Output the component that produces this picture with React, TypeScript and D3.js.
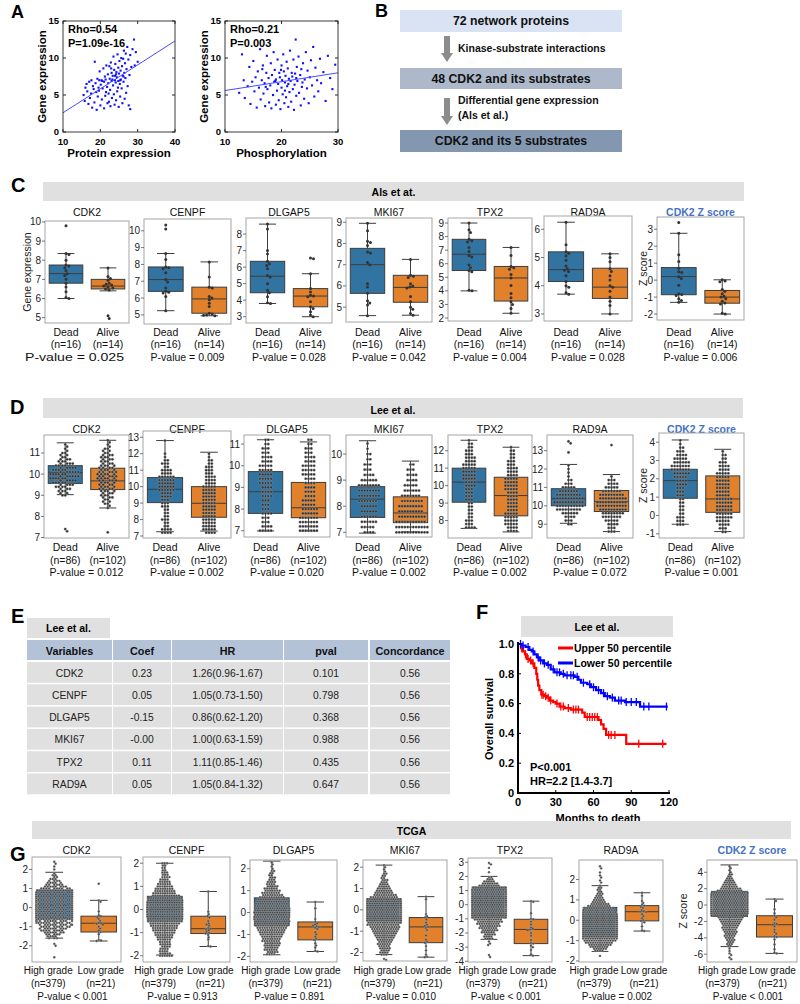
import React from 'react';
import * as d3 from 'd3';

const FONT = "'Liberation Sans', Arial, Helvetica, sans-serif";
const BOX_BLUE = '#3274a1';
const BOX_ORANGE = '#e1812c';
const EDGE = '#3d3d3d';
const BAR_GRAY = '#e0e0e0';
const Z_BLUE = '#4472c4';

// ================= Panel A data =================
const proteinScatter: [number, number][] = [
  [15.5,5.0],[15.8,4.2],[16.0,6.0],[16.3,6.5],[16.5,5.5],[16.8,3.8],[17.0,6.8],[17.2,4.6],[17.5,5.2],[17.6,7.0],
  [17.8,3.3],[18.0,6.2],[18.2,5.8],[18.4,4.0],[18.5,9.5],[18.7,6.6],[18.9,5.4],[19.0,3.0],[19.2,7.2],[19.3,4.8],
  [19.5,6.0],[19.6,5.6],[19.8,8.2],[20.0,3.6],[20.1,6.4],[20.3,7.0],[20.4,4.4],[20.6,5.9],[20.8,8.6],[21.0,3.2],
  [21.0,6.8],[21.2,7.5],[21.3,4.9],[21.5,5.4],[21.6,9.0],[21.8,6.1],[21.9,3.9],[22.0,7.8],[22.1,6.6],[22.3,4.1],
  [22.4,8.9],[22.5,7.2],[22.6,5.7],[22.7,3.5],[22.8,9.4],[23.0,6.9],[23.0,8.0],[23.1,4.6],[23.3,7.6],[23.4,6.3],
  [23.5,10.2],[23.6,5.1],[23.7,8.4],[23.8,3.7],[23.9,7.0],[24.0,9.2],[24.1,6.7],[24.2,4.3],[24.3,8.1],[24.4,7.4],
  [24.5,5.5],[24.6,10.5],[24.7,6.0],[24.8,8.7],[24.9,3.4],[25.0,7.9],[25.1,9.6],[25.2,6.5],[25.3,4.8],[25.4,8.3],
  [25.5,7.1],[25.6,10.0],[25.7,5.9],[25.8,8.9],[25.9,3.9],[26.0,7.6],[26.1,9.9],[26.2,6.8],[26.3,11.0],[26.4,8.0],
  [26.5,4.5],[26.6,9.3],[26.7,7.3],[26.8,10.6],[26.9,5.3],[27.0,8.5],[27.2,11.5],[27.3,6.2],[27.5,9.8],[27.6,3.6],
  [27.8,7.7],[28.0,10.4],[28.0,3.1],[28.3,8.8],[28.6,11.2],[29.0,12.5],[29.2,9.0],[29.5,10.8],[30.0,9.5],[24.2,7.8],
  [23.2,7.1],[22.2,5.2],[25.3,7.0],[26.2,7.5],[21.4,7.1],[20.5,6.9],[19.7,7.0],[24.8,6.9],[22.9,8.6],[23.9,7.6]
];
const phosphoScatter: [number, number][] = [
  [12.5,5.3],[13.0,10.5],[13.3,7.0],[13.5,4.6],[14.0,6.2],[14.3,8.8],[14.5,3.8],[14.8,6.8],[15.0,9.6],[15.2,5.5],
  [15.4,7.4],[15.6,3.3],[15.8,8.2],[16.0,6.0],[16.2,11.2],[16.3,4.4],[16.5,7.0],[16.7,9.0],[16.8,5.2],[17.0,6.6],
  [17.1,3.5],[17.3,8.0],[17.4,10.3],[17.5,5.8],[17.7,7.3],[17.8,4.0],[18.0,6.3],[18.1,9.3],[18.2,3.2],[18.3,7.7],
  [18.5,5.0],[18.6,10.8],[18.7,6.8],[18.8,8.4],[19.0,3.7],[19.0,7.1],[19.2,5.6],[19.3,9.8],[19.4,6.5],[19.5,4.3],
  [19.6,8.0],[19.7,7.4],[19.8,3.1],[20.0,6.0],[20.0,9.0],[20.1,7.0],[20.2,5.1],[20.3,10.5],[20.4,8.2],[20.5,3.9],
  [20.6,6.7],[20.7,7.6],[20.8,4.7],[20.9,9.5],[21.0,6.2],[21.1,8.6],[21.2,3.4],[21.3,7.2],[21.4,5.4],[21.5,11.0],
  [21.6,6.9],[21.7,4.1],[21.8,8.0],[21.9,7.5],[22.0,5.8],[22.1,9.8],[22.2,3.0],[22.3,6.4],[22.4,7.9],[22.5,12.5],
  [22.6,4.9],[22.7,8.8],[22.8,6.9],[23.0,10.2],[23.1,5.3],[23.3,7.7],[23.4,3.6],[23.5,8.5],[23.6,6.1],[23.8,9.3],
  [24.0,4.5],[24.1,7.1],[24.3,10.8],[24.5,5.9],[24.6,8.3],[24.8,3.9],[25.0,7.4],[25.2,9.7],[25.4,6.3],[25.6,11.5],
  [25.8,4.8],[26.0,8.7],[26.3,7.0],[26.5,5.5],[26.8,9.9],[27.0,6.6],[27.4,8.1],[27.8,4.2],[28.2,10.3],[28.6,7.3],
  [29.0,5.8],[29.5,9.1],[18.9,6.9],[21.2,6.5],[20.6,5.6],[19.9,8.4],[22.6,7.3],[17.2,6.1],[23.7,6.7],[16.6,8.5]
];
const proteinFit: [number, number][] = [[10, 2.6], [40, 12.3]];
const phosphoFit: [number, number][] = [[10, 5.6], [30, 8.0]];
const proteinXTicks = [10, 20, 30, 40];
const phosphoXTicks = [10, 20, 30];
const geneExprYTicks = [0, 5, 10, 15];

// ================= Panel B data =================
const flowBoxTexts = ['72 network proteins', '48 CDK2 and its substrates', 'CDK2 and its 5 substrates'];
const flowStepTexts = [['Kinase-substrate interactions'], ['Differential gene expression', '(Als et al.)']];

// ================= Gene box panels =================
const geneTitles = ['CDK2', 'CENPF', 'DLGAP5', 'MKI67', 'TPX2', 'RAD9A', 'CDK2 Z score'];

// ---- C: Als et al. (stats = [whiskerLow, q1, median, q3, whiskerHigh])
const alsDomains = [[4.72, 10.05], [4.46, 10.7], [2.62, 8.97], [4.3, 9.2], [1.78, 9.37], [2.75, 6.47], [-2.35, 3.72]];
const alsTicks = [[5, 6, 7, 8, 9, 10], [5, 6, 7, 8, 9, 10], [3, 4, 5, 6, 7, 8], [5, 6, 7, 8, 9], [2, 3, 4, 5, 6, 7, 8, 9], [3, 4, 5, 6], [-2, -1, 0, 1, 2, 3]];
const alsDeadStats = [
  [6.0, 6.8, 7.3, 7.75, 8.35], [5.25, 6.4, 7.1, 7.85, 8.65], [3.8, 4.45, 5.45, 6.35, 8.6], [4.6, 5.65, 7.0, 7.77, 8.95],
  [4.0, 5.5, 6.7, 7.8, 9.0], [3.7, 4.15, 4.57, 5.2, 6.25], [-1.31, -0.86, 0.21, 0.74, 2.76]
];
const alsAliveStats = [
  [6.4, 6.5, 6.65, 7.0, 7.6], [4.95, 5.1, 5.95, 6.65, 8.15], [3.0, 3.6, 4.25, 4.7, 5.6], [4.62, 5.23, 5.93, 6.5, 7.25],
  [2.35, 3.25, 4.95, 5.8, 7.2], [3.0, 3.55, 3.95, 4.62, 5.13], [-2.0, -1.36, -1.0, -0.61, 0.02]
];
const alsDeadValues = [
  [9.8, 8.35, 8.3, 8.0, 7.75, 7.7, 7.6, 7.45, 7.3, 7.2, 7.0, 6.8, 6.6, 6.35, 6.05, 6.0],
  [10.35, 10.1, 8.65, 8.3, 7.85, 7.8, 7.75, 7.5, 7.1, 6.95, 6.6, 6.4, 6.35, 6.3, 6.1, 5.25],
  [8.6, 8.3, 7.0, 6.8, 6.35, 6.2, 6.1, 5.9, 5.5, 5.4, 5.0, 4.6, 4.45, 4.2, 3.85, 3.8],
  [8.95, 8.6, 8.1, 8.05, 7.9, 7.6, 7.55, 7.1, 7.0, 6.1, 5.95, 5.65, 5.3, 5.2, 5.1, 4.6],
  [9.0, 8.5, 8.3, 7.8, 7.7, 7.6, 7.2, 6.9, 6.6, 6.5, 5.9, 5.7, 5.5, 5.4, 4.05, 4.0],
  [6.25, 5.45, 5.2, 5.15, 5.05, 4.9, 4.7, 4.6, 4.55, 4.5, 4.35, 4.15, 4.0, 3.95, 3.75, 3.7],
  [3.4, 2.76, 1.5, 1.1, 0.7, 0.5, 0.45, 0.2, 0.1, -0.3, -0.8, -0.85, -0.9, -1.1, -1.2, -1.31]
];
const alsAliveValues = [
  [7.6, 7.15, 7.05, 6.95, 6.8, 6.75, 6.7, 6.65, 6.6, 6.55, 6.5, 6.45, 5.1, 4.95],
  [8.15, 7.25, 6.65, 6.6, 6.1, 6.0, 5.9, 5.7, 5.5, 5.1, 5.05, 5.0, 4.98, 4.95],
  [6.55, 6.5, 5.6, 4.7, 4.5, 4.3, 4.25, 4.2, 3.9, 3.6, 3.5, 3.3, 3.1, 3.0],
  [7.25, 6.5, 6.45, 6.4, 6.1, 6.0, 5.95, 5.9, 5.5, 5.25, 5.0, 4.9, 4.7, 4.62],
  [7.2, 6.6, 5.8, 5.7, 5.6, 5.2, 4.95, 4.4, 3.8, 3.5, 3.2, 3.0, 2.7, 2.35],
  [5.13, 5.0, 4.85, 4.6, 4.5, 4.35, 4.2, 4.0, 3.95, 3.8, 3.6, 3.45, 3.3, 3.0],
  [0.02, -0.05, -0.1, -0.55, -0.65, -0.8, -0.95, -1.0, -1.1, -1.25, -1.35, -1.4, -1.95, -2.0]
];
const alsPValues = ['= 0.025', '= 0.009', '= 0.028', '= 0.042', '= 0.004', '= 0.028', '= 0.006'];

// ---- D: Lee et al. (dot counts per value bin: lo, step, counts, extra single values)
type Hist = { lo: number; step: number; counts: number[]; extra?: number[] };
const leeDomains = [[6.98, 11.85], [6.88, 13.38], [6.71, 11.42], [6.82, 10.73], [7.0, 12.9], [8.25, 13.85], [-1.23, 4.5]];
const leeTicks = [[7, 8, 9, 10, 11], [7, 8, 9, 10, 11, 12, 13], [7, 8, 9, 10, 11], [7, 8, 9, 10], [8, 9, 10, 11, 12], [9, 10, 11, 12, 13], [-1, 0, 1, 2, 3, 4]];
const leeDeadStats = [
  [9.03, 9.56, 10.07, 10.4, 11.48], [7.26, 9.03, 9.84, 10.55, 12.8], [6.99, 7.8, 8.8, 9.73, 11.2], [6.97, 7.57, 8.27, 8.75, 10.51],
  [7.55, 9.05, 10.2, 11.0, 12.6], [9.05, 10.0, 10.39, 10.93, 12.25], [-0.48, 0.94, 1.9, 2.52, 4.12]
];
const leeAliveStats = [
  [8.4, 9.27, 9.68, 10.28, 11.6], [7.3, 8.14, 8.99, 10.0, 12.09], [6.99, 7.6, 8.06, 9.23, 11.1], [7.02, 7.37, 7.74, 8.36, 9.73],
  [7.35, 8.27, 9.43, 10.48, 12.2], [8.6, 9.69, 10.23, 10.83, 11.7], [-0.88, 0.17, 0.9, 2.16, 3.61]
];
const leeDeadHists: Hist[] = [
  { lo: 9.0, step: 0.1, counts: [2, 2, 3, 3, 4, 4, 5, 5, 6, 6, 6, 6, 5, 5, 4, 4, 3, 3, 2, 2, 2, 1, 1, 1, 1], extra: [7.4, 7.3] },
  { lo: 7.2, step: 0.2, counts: [4, 4, 2, 2, 3, 2, 2, 2, 3, 3, 3, 4, 4, 6, 6, 6, 6, 6, 4, 4, 2, 3, 2, 1, 1, 0, 0, 0, 1] },
  { lo: 7.0, step: 0.2, counts: [5, 4, 3, 3, 4, 3, 3, 3, 4, 4, 4, 5, 5, 5, 5, 5, 4, 4, 3, 3, 2, 2] },
  { lo: 7.0, step: 0.2, counts: [4, 5, 6, 6, 6, 6, 7, 8, 8, 8, 6, 4, 3, 3, 2, 2, 1, 1] },
  { lo: 7.6, step: 0.2, counts: [4, 3, 3, 2, 2, 2, 2, 2, 3, 3, 3, 3, 4, 4, 5, 5, 5, 5, 5, 4, 4, 3, 3, 2, 2, 1] },
  { lo: 9.0, step: 0.2, counts: [2, 3, 4, 6, 9, 10, 11, 10, 9, 7, 5, 3, 2, 1, 1, 1, 1], extra: [13.5, 13.4, 12.9] },
  { lo: -0.5, step: 0.2, counts: [3, 3, 3, 2, 2, 2, 2, 2, 3, 3, 3, 4, 4, 5, 6, 7, 7, 6, 5, 4, 3, 2, 1, 1] }
];
const leeAliveHists: Hist[] = [
  { lo: 8.4, step: 0.1, counts: [1, 1, 2, 2, 2, 3, 3, 3, 4, 4, 4, 4, 4, 5, 5, 5, 5, 5, 4, 4, 4, 3, 3, 3, 3, 3, 2, 2, 2, 1, 1, 1, 1], extra: [7.25] },
  { lo: 7.2, step: 0.2, counts: [4, 5, 5, 5, 5, 5, 5, 5, 5, 5, 5, 5, 5, 5, 5, 4, 4, 4, 3, 3, 3, 2, 2, 1, 1] },
  { lo: 7.0, step: 0.2, counts: [7, 7, 7, 7, 6, 6, 5, 5, 4, 4, 4, 4, 4, 5, 5, 5, 4, 4, 3, 3, 2, 2] },
  { lo: 7.0, step: 0.2, counts: [12, 12, 11, 10, 9, 9, 8, 7, 6, 5, 4, 4, 3, 2] },
  { lo: 7.4, step: 0.2, counts: [4, 4, 5, 5, 5, 5, 4, 4, 4, 4, 4, 4, 5, 5, 5, 5, 4, 4, 4, 3, 3, 2, 2, 2, 1] },
  { lo: 8.6, step: 0.2, counts: [3, 3, 4, 5, 7, 8, 10, 11, 11, 10, 9, 7, 5, 4, 3, 1], extra: [13.3] },
  { lo: -0.9, step: 0.2, counts: [2, 3, 4, 5, 6, 6, 6, 6, 6, 6, 5, 5, 5, 5, 5, 5, 5, 4, 4, 3, 2, 2, 1] }
];
const leePValues = ['= 0.012', '= 0.002', '= 0.020', '= 0.002', '= 0.002', '= 0.072', '= 0.001'];

// ---- G: TCGA
const tcgaDomains = [[-2.85, 2.65], [-2.27, 2.27], [-2.26, 2.4], [-2.4, 2.34], [-4.05, 3.3], [-2.05, 2.96], [-6.95, 5.5]];
const tcgaTicks = [[-2, -1, 0, 1, 2], [-2, -1, 0, 1, 2], [-2, -1, 0, 1, 2], [-2, -1, 0, 1, 2], [-4, -3, -2, -1, 0, 1, 2, 3], [-2, -1, 0, 1, 2], [-6, -4, -2, 0, 2, 4]];
const tcgaHighStats = [
  [-1.6, -0.6, 0.15, 0.92, 1.85], [-1.97, -0.53, 0.0, 0.57, 2.0], [-1.93, -0.6, 0.0, 0.67, 2.35], [-2.1, -0.52, 0.0, 0.53, 2.1],
  [-2.45, -0.83, 0.05, 1.25, 2.0], [-1.53, -0.82, 0.05, 0.63, 1.7], [-5.07, -1.4, 0.0, 1.67, 4.9]
];
const tcgaLowStats = [
  [-1.75, -1.28, -0.82, -0.45, 0.38], [-1.6, -1.04, -0.83, -0.29, 0.78], [-1.78, -1.25, -0.66, -0.43, 0.48], [-2.22, -1.54, -0.8, -0.36, 0.62],
  [-3.6, -2.75, -1.75, -1.03, 0.25], [-0.53, -0.03, 0.42, 0.72, 1.35], [-5.9, -3.9, -2.4, -1.3, 0.73]
];
const tcgaHighHists: Hist[] = [
  { lo: -1.6, step: 0.1, counts: [3, 4, 5, 7, 8, 9, 10, 11, 12, 13, 13, 14, 14, 15, 15, 16, 16, 16, 15, 15, 15, 14, 14, 13, 12, 12, 10, 8, 6, 5, 4, 3, 2, 2, 1], extra: [2.4, 2.3, 2.15, 2.0, -1.9, -2.0, -2.6] },
  { lo: -2.0, step: 0.1, counts: [6, 5, 4, 4, 4, 5, 5, 6, 7, 8, 9, 10, 11, 12, 13, 15, 16, 17, 17, 18, 18, 18, 17, 17, 16, 15, 12, 10, 9, 8, 7, 6, 5, 4, 4, 3, 3, 2, 2, 2, 3] },
  { lo: -1.9, step: 0.1, counts: [4, 5, 6, 6, 7, 7, 8, 8, 9, 10, 11, 12, 13, 14, 15, 15, 16, 16, 16, 16, 16, 15, 15, 14, 14, 13, 11, 9, 8, 7, 6, 5, 4, 4, 3, 3, 2, 2, 2, 1, 1, 1, 1] },
  { lo: -2.1, step: 0.1, counts: [3, 4, 4, 5, 5, 6, 6, 7, 8, 9, 10, 11, 12, 13, 14, 15, 16, 17, 17, 18, 18, 18, 18, 17, 17, 16, 15, 12, 10, 8, 7, 6, 5, 4, 3, 3, 2, 2, 2, 1, 1, 1, 1], extra: [-2.35, -2.3] },
  { lo: -2.4, step: 0.15, counts: [4, 4, 5, 6, 7, 8, 9, 10, 11, 12, 16, 17, 17, 18, 18, 19, 19, 19, 19, 18, 18, 17, 17, 16, 15, 9, 7, 5, 3, 2], extra: [2.95, 2.85, 2.6, 2.3, -2.6, -2.75, -2.85, -3.55, -3.7] },
  { lo: -1.5, step: 0.1, counts: [4, 6, 8, 10, 12, 14, 15, 16, 17, 17, 18, 18, 18, 18, 17, 17, 16, 16, 15, 15, 14, 13, 10, 8, 6, 5, 4, 3, 3, 2, 2, 2, 1], extra: [2.65, 2.55, 2.35, 2.2, 2.1, 1.95, 1.85, -1.75] },
  { lo: -5.0, step: 0.25, counts: [2, 3, 3, 4, 4, 5, 5, 6, 6, 7, 7, 8, 9, 10, 11, 16, 17, 18, 19, 20, 20, 20, 20, 19, 19, 18, 17, 11, 9, 7, 6, 5, 4, 3, 2, 2, 1, 1, 1, 1], extra: [-5.3, -5.6, -5.9, -6.1, -6.4, -6.6] }
];
const tcgaLowValues = [
  [1.25, 0.38, 0.3, -0.2, -0.4, -0.45, -0.5, -0.6, -0.7, -0.8, -0.82, -0.85, -0.9, -1.0, -1.1, -1.2, -1.28, -1.4, -1.7, -1.72, -1.75],
  [0.78, -0.1, -0.2, -0.29, -0.35, -0.5, -0.6, -0.65, -0.7, -0.8, -0.83, -0.85, -0.9, -0.95, -1.0, -1.04, -1.1, -1.2, -1.3, -1.58, -1.6],
  [0.48, 0.2, -0.3, -0.43, -0.5, -0.55, -0.6, -0.62, -0.66, -0.7, -0.75, -0.9, -1.0, -1.1, -1.2, -1.25, -1.4, -1.5, -1.6, -1.75, -1.78],
  [0.62, 0.5, -0.2, -0.3, -0.36, -0.45, -0.6, -0.7, -0.75, -0.8, -0.85, -0.95, -1.2, -1.4, -1.5, -1.54, -1.7, -1.9, -2.1, -2.2, -2.22],
  [0.25, 0.2, -0.6, -1.0, -1.03, -1.2, -1.4, -1.6, -1.7, -1.75, -1.8, -2.0, -2.2, -2.5, -2.7, -2.75, -2.9, -3.0, -3.2, -3.5, -3.6],
  [1.35, 1.2, 0.95, 0.85, 0.75, 0.72, 0.65, 0.6, 0.5, 0.45, 0.42, 0.4, 0.3, 0.2, 0.1, 0.0, -0.03, -0.1, -0.3, -0.5, -0.53],
  [0.73, 0.5, -0.5, -1.0, -1.3, -1.5, -1.8, -2.2, -2.3, -2.4, -2.6, -3.0, -3.3, -3.5, -3.8, -3.9, -4.2, -4.8, -5.4, -5.8, -5.9]
];
const tcgaPValues = ['< 0.001', '= 0.913', '= 0.891', '= 0.010', '< 0.001', '= 0.002', '< 0.001'];

// ================= Panel E data =================
const coxColumns = ['Variables', 'Coef', 'HR', 'pval', 'Concordance'];
const coxVariables = ['CDK2', 'CENPF', 'DLGAP5', 'MKI67', 'TPX2', 'RAD9A'];
const coxCoef = ['0.23', '0.05', '-0.15', '-0.00', '0.11', '0.05'];
const coxHR = ['1.26(0.96-1.67)', '1.05(0.73-1.50)', '0.86(0.62-1.20)', '1.00(0.63-1.59)', '1.11(0.85-1.46)', '1.05(0.84-1.32)'];
const coxPval = ['0.101', '0.798', '0.368', '0.988', '0.435', '0.647'];
const coxConcordance = ['0.56', '0.56', '0.56', '0.56', '0.56', '0.56'];

// ================= Panel F data =================
const kmUpper: [number, number][] = [
  [0, 1.0], [2.5, 0.97], [4, 0.95], [5.5, 0.93], [7, 0.9], [9, 0.89], [11, 0.87], [13, 0.84], [14.5, 0.8], [15.3, 0.76],
  [16, 0.72], [17, 0.69], [18.5, 0.66], [21, 0.65], [23, 0.64], [25.5, 0.62], [28, 0.61], [30, 0.6], [33, 0.58], [37, 0.57],
  [42, 0.56], [51, 0.54], [53, 0.51], [64, 0.49], [66, 0.46], [68, 0.43], [70, 0.39], [86, 0.33], [118, 0.33]
];
const kmLower: [number, number][] = [
  [0, 1.0], [3, 0.99], [6, 0.98], [9, 0.96], [11, 0.95], [13, 0.93], [15, 0.91], [17, 0.89], [20, 0.87], [23, 0.86],
  [26, 0.83], [29, 0.81], [34, 0.8], [37, 0.79], [45, 0.78], [48, 0.76], [50, 0.74], [55, 0.73], [58, 0.71], [62, 0.69],
  [66, 0.67], [69, 0.65], [73, 0.64], [77, 0.62], [85, 0.61], [97, 0.58], [119, 0.58]
];
const kmUpperCensor = [3, 6, 8, 10, 12, 19, 20, 22, 24, 26, 31, 34, 36, 40, 44, 46, 48, 55, 57, 59, 61, 63, 72, 74, 77, 96, 115];
const kmLowerCensor = [2, 4, 8, 12, 16, 18, 21, 24, 28, 31, 33, 36, 39, 42, 44, 47, 52, 57, 60, 64, 68, 71, 75, 80, 82, 86, 90, 94, 100, 104, 118];
const kmXTicks = [0, 30, 60, 90, 120];
const kmYTicks = [0, 0.2, 0.4, 0.6, 0.8, 1.0];
const kmLegend = ['Upper 50 percentile', 'Lower 50 percentile'];

// ================= Layout (pixel frames [x0, x1, y0, y1]) =================
const alsFrames = [[45, 129, 221, 323], [144, 231, 219, 324], [246, 332, 218, 323], [346, 432, 218, 322], [448, 532, 218, 321], [544, 632, 216, 321], [657, 744, 217, 320]];
const leeFrames = [[44, 129, 435, 538], [143, 231, 431, 538], [244, 330, 435, 537], [346, 432, 435, 537], [448, 532, 435, 538], [547, 633, 435, 538], [659, 744, 433, 538]];
const tcgaFrames = [[32, 121, 857, 962], [143, 230, 857, 962], [250, 337, 860, 962], [363, 447, 860, 961], [468, 552, 858, 962], [579, 663, 860, 962], [707, 797, 860, 962]];

// ================= helpers =================
function expandHist(h: Hist): number[] {
  const out: number[] = [];
  h.counts.forEach((c, i) => {
    const v = h.lo + i * h.step;
    for (let k = 0; k < c; k++) out.push(v);
  });
  (h.extra || []).forEach(v => out.push(v));
  return out;
}

function swarmOffsets(ys: number[], d: number, maxHalf: number): number[] {
  const idx = ys.map((_, i) => i).sort((a, b) => ys[a] - ys[b]);
  const placed: { x: number; y: number }[] = [];
  const res = new Array(ys.length).fill(0);
  let start = 0;
  for (const i of idx) {
    const y = ys[i];
    while (start < placed.length && y - placed[start].y >= d) start++;
    const neigh = placed.slice(start);
    const cands = [0];
    for (const q of neigh) {
      const dy = y - q.y;
      const dx = Math.sqrt(Math.max(0, d * d - dy * dy));
      cands.push(q.x + dx + 0.01, q.x - dx - 0.01);
    }
    cands.sort((a, b) => Math.abs(a) - Math.abs(b));
    let chosen = 0;
    for (const c of cands) {
      let ok = true;
      for (const q of neigh) {
        const dx = c - q.x, dy = y - q.y;
        if (dx * dx + dy * dy < d * d - 0.02) { ok = false; break; }
      }
      if (ok) { chosen = c; break; }
    }
    if (Math.abs(chosen) > maxHalf) chosen = Math.sign(chosen) * maxHalf;
    res[i] = chosen;
    placed.push({ x: chosen, y });
  }
  return res;
}

type Group = { stats: number[]; values: number[]; color: string };

function BoxPanel(props: {
  frame: number[]; domain: number[]; ticks: number[]; title: string; titleY: number;
  groups: Group[]; dotR: number; dotD: number; dotFill: string; dotStroke?: string; rowTexts: string[][]; rowYs: number[];
  rowShift?: number[]; rowSize?: number;
  pText: string; pY: number; pX?: number; pWidth?: number; ylabel?: string; ylabelX?: number;
}) {
  const { frame, domain, ticks, title, titleY, groups, dotR, dotD, dotFill, dotStroke, rowTexts, rowYs, rowShift, rowSize, pText, pY, pX, pWidth, ylabel, ylabelX } = props;
  const [x0, x1, y0, y1] = frame;
  const xs = d3.scaleLinear().domain([-0.5, 1.5]).range([x0, x1]);
  const ys = d3.scaleLinear().domain(domain).range([y1, y0]);
  const isZ = title.indexOf('Z score') >= 0;
  const cx = (x0 + x1) / 2;
  const half = xs(0.4) - xs(0);
  const shift = rowShift || [0, 0];
  return (
    <g>
      <text x={cx} y={titleY} textAnchor="middle" fontSize={10.5} fill={isZ ? Z_BLUE : '#111'} fontWeight={isZ ? 'bold' : 'normal'}>{title}</text>
      {groups.map((g, gi) => {
        const c = xs(gi);
        const [wl, q1, med, q3, wh] = g.stats;
        const ypx = g.values.map(v => ys(v));
        const offs = swarmOffsets(ypx, dotD, half);
        return (
          <g key={gi}>
            <line x1={c} x2={c} y1={ys(q3)} y2={ys(wh)} stroke={EDGE} strokeWidth={1} />
            <line x1={c} x2={c} y1={ys(q1)} y2={ys(wl)} stroke={EDGE} strokeWidth={1} />
            <line x1={c - half / 2} x2={c + half / 2} y1={ys(wh)} y2={ys(wh)} stroke={EDGE} strokeWidth={1} />
            <line x1={c - half / 2} x2={c + half / 2} y1={ys(wl)} y2={ys(wl)} stroke={EDGE} strokeWidth={1} />
            <rect x={c - half} y={ys(q3)} width={2 * half} height={ys(q1) - ys(q3)} fill={g.color} stroke={EDGE} strokeWidth={1} />
            <line x1={c - half} x2={c + half} y1={ys(med)} y2={ys(med)} stroke={EDGE} strokeWidth={1} />
            {ypx.map((y, i) => (
              <circle key={i} cx={c + offs[i]} cy={y} r={dotR} fill={dotFill} stroke={dotStroke || 'none'} strokeWidth={dotStroke ? 0.3 : 0} />
            ))}
          </g>
        );
      })}
      <rect x={x0} y={y0} width={x1 - x0} height={y1 - y0} fill="none" stroke="#a6a6a6" strokeWidth={1} />
      {ticks.map(t => (
        <g key={t}>
          <line x1={x0 - 3} x2={x0} y1={ys(t)} y2={ys(t)} stroke="#555" strokeWidth={0.8} />
          <text x={x0 - 4} y={ys(t)} dy="0.35em" textAnchor="end" fontSize={10} fill="#222">{t}</text>
        </g>
      ))}
      {ylabel ? (
        <text transform={`translate(${ylabelX},${(y0 + y1) / 2}) rotate(-90)`} textAnchor="middle" fontSize={10.5} fill="#222">{ylabel}</text>
      ) : null}
      {rowTexts.map((row, ri) => row.map((t, gi) => (
        <text key={ri + '-' + gi} x={xs(gi) + shift[gi]} y={rowYs[ri]} textAnchor="middle" fontSize={rowSize || 10.5} fill="#111">{t}</text>
      )))}
      <text x={pX ?? cx} y={pY} textAnchor="middle" fontSize={rowSize || 10.5} fill="#111"
        {...(pWidth ? { textLength: pWidth, lengthAdjust: 'spacingAndGlyphs' } : {})}>{'P-value ' + pText}</text>
    </g>
  );
}

function Scatter(props: { frame: number[]; xDomain: number[]; xTicks: number[]; pts: [number, number][]; fit: [number, number][]; rho: string; pv: string; xLabel: string }) {
  const { frame, xDomain, xTicks, pts, fit, rho, pv, xLabel } = props;
  const [x0, x1, y0, y1] = frame;
  const xs = d3.scaleLinear().domain(xDomain).range([x0, x1]);
  const ys = d3.scaleLinear().domain([0, 15]).range([y1, y0]);
  const line = d3.line<[number, number]>().x(d => xs(d[0])).y(d => ys(d[1]));
  return (
    <g>
      {pts.map((d, i) => <rect key={i} x={xs(d[0]) - 1} y={ys(d[1]) - 1} width={2.1} height={2.1} fill="#1010ff" />)}
      <path d={line(fit) || ''} fill="none" stroke="#4a4aff" strokeWidth={1} />
      <rect x={x0} y={y0} width={x1 - x0} height={y1 - y0} fill="none" stroke="#262626" strokeWidth={0.9} />
      {xTicks.map(t => (
        <g key={t}>
          <line x1={xs(t)} x2={xs(t)} y1={y1} y2={y1 - 3} stroke="#262626" />
          <line x1={xs(t)} x2={xs(t)} y1={y0} y2={y0 + 3} stroke="#262626" />
          <text x={xs(t)} y={y1 + 13} textAnchor="middle" fontSize={9.5} fontWeight="bold">{t}</text>
        </g>
      ))}
      {geneExprYTicks.map(t => (
        <g key={t}>
          <line x1={x0} x2={x0 + 3} y1={ys(t)} y2={ys(t)} stroke="#262626" />
          <line x1={x1} x2={x1 - 3} y1={ys(t)} y2={ys(t)} stroke="#262626" />
          <text x={x0 - 4} y={ys(t)} dy="0.35em" textAnchor="end" fontSize={9.5} fontWeight="bold">{t}</text>
        </g>
      ))}
      <text x={(x0 + x1) / 2} y={157} textAnchor="middle" fontSize={11.5} fontWeight="bold">{xLabel}</text>
      <text transform={`translate(${x0 - 17},${(y0 + y1) / 2}) rotate(-90)`} textAnchor="middle" fontSize={11.5} fontWeight="bold">Gene expression</text>
      <text x={x0 + 5} y={33} fontSize={11} fontWeight="bold">{rho}</text>
      <text x={x0 + 5} y={46.5} fontSize={11} fontWeight="bold">{pv}</text>
    </g>
  );
}

function PanelLabel({ x, y, t, size }: { x: number; y: number; t: string; size?: number }) {
  return <text x={x} y={y} fontSize={size || 20} fontWeight="bold" fill="#000">{t}</text>;
}

function HeaderBar({ x0, x1, y0, y1, text, ty }: { x0: number; x1: number; y0: number; y1: number; text: string; ty: number }) {
  return (
    <g>
      <rect x={x0} y={y0} width={x1 - x0} height={y1 - y0} fill={BAR_GRAY} />
      <text x={(x0 + x1) / 2} y={ty} textAnchor="middle" fontSize={10.5} fontWeight="bold">{text}</text>
    </g>
  );
}

function PanelB() {
  const boxYs = [[10, 32], [68, 89], [130, 152]];
  const boxFills = ['#dae3f3', '#adb9ca', '#8497b0'];
  const arrows = [[36, 62], [98, 125]];
  const stepYs = [[51.5], [104, 118.5]];
  return (
    <g>
      {flowBoxTexts.map((t, i) => (
        <g key={i}>
          <rect x={400} y={boxYs[i][0]} width={222} height={boxYs[i][1] - boxYs[i][0]} fill={boxFills[i]} />
          <text x={511} y={(boxYs[i][0] + boxYs[i][1]) / 2} dy="0.36em" textAnchor="middle" fontSize={12.3} fontWeight="bold" fill="#111">{t}</text>
        </g>
      ))}
      {arrows.map((a, i) => (
        <g key={i}>
          <path d={`M${444},${a[0]} L${450},${a[0]} L${450},${a[1] - 9} L${453},${a[1] - 9} L${447},${a[1]} L${441},${a[1] - 9} L${444},${a[1] - 9} Z`} fill="#8c8c8c" />
          {flowStepTexts[i].map((t, j) => (
            <text key={j} x={458} y={stepYs[i][j]} fontSize={10.5} fontWeight="bold" fill="#111">{t}</text>
          ))}
        </g>
      ))}
    </g>
  );
}

function PanelE() {
  const cols = [[27, 112], [113, 171], [172, 283], [284, 368], [370, 450]];
  const headerY = [640, 660];
  const rowTop = 662;
  const rowH = 22.3;
  const cells = coxVariables.map((v, i) => [v, coxCoef[i], coxHR[i], coxPval[i], coxConcordance[i]]);
  return (
    <g>
      <rect x={27} y={618} width={83} height={20} fill={BAR_GRAY} />
      <text x={68.5} y={631.5} textAnchor="middle" fontSize={10.5} fontWeight="bold">Lee et al.</text>
      {coxColumns.map((c, j) => (
        <g key={j}>
          <rect x={cols[j][0]} y={headerY[0]} width={cols[j][1] - cols[j][0]} height={headerY[1] - headerY[0]} fill="#b4c2d8" />
          <text x={(cols[j][0] + cols[j][1]) / 2} y={654.5} textAnchor="middle" fontSize={10.8} fontWeight="bold" fill="#111">{c}</text>
        </g>
      ))}
      {cells.map((row, i) => row.map((c, j) => (
        <g key={i + '-' + j}>
          <rect x={cols[j][0]} y={rowTop + i * rowH} width={cols[j][1] - cols[j][0]} height={rowH - 1.5} fill="#e0e0e0" />
          <text x={(cols[j][0] + cols[j][1]) / 2} y={rowTop + i * rowH + 14.5} textAnchor="middle" fontSize={10.3} fill="#222">{c}</text>
        </g>
      )))}
    </g>
  );
}

function PanelF() {
  const xs = d3.scaleLinear().domain([0, 120]).range([518, 669]);
  const ys = d3.scaleLinear().domain([0, 1]).range([793, 644]);
  const step = d3.line<[number, number]>().x(d => xs(d[0])).y(d => ys(d[1])).curve(d3.curveStepAfter);
  const survAt = (s: [number, number][], t: number) => {
    let v = s[0][1];
    for (const p of s) { if (p[0] <= t) v = p[1]; }
    return v;
  };
  const curves = [
    { s: kmUpper, c: kmUpperCensor, col: '#ff0000' },
    { s: kmLower, c: kmLowerCensor, col: '#0000ff' }
  ];
  return (
    <g>
      <rect x={521} y={616} width={152} height={21} fill={BAR_GRAY} />
      <text x={597} y={631} textAnchor="middle" fontSize={10.5} fontWeight="bold">Lee et al.</text>
      {curves.map((cv, i) => (
        <g key={i}>
          <path d={step(cv.s) || ''} fill="none" stroke={cv.col} strokeWidth={2.2} />
          {cv.c.map((t, k) => {
            const v = survAt(cv.s, t);
            return <line key={k} x1={xs(t)} x2={xs(t)} y1={ys(v) - 4} y2={ys(v) + 4} stroke={cv.col} strokeWidth={1.3} />;
          })}
        </g>
      ))}
      <line x1={518} x2={518} y1={642} y2={794} stroke="#000" strokeWidth={2} />
      <line x1={517} x2={670} y1={793} y2={793} stroke="#000" strokeWidth={2} />
      {kmYTicks.map(t => (
        <g key={t}>
          <line x1={518} x2={521} y1={ys(t)} y2={ys(t)} stroke="#000" />
          <text x={514} y={ys(t)} dy="0.35em" textAnchor="end" fontSize={11} fontWeight="bold">{t === 0 ? '0' : t.toFixed(1)}</text>
        </g>
      ))}
      {kmXTicks.map(t => (
        <g key={t}>
          <line x1={xs(t)} x2={xs(t)} y1={793} y2={790} stroke="#000" />
          <text x={xs(t)} y={806} textAnchor="middle" fontSize={11} fontWeight="bold">{t}</text>
        </g>
      ))}
      <text transform={`translate(493,719) rotate(-90)`} textAnchor="middle" fontSize={11} fontWeight="bold">Overall survival</text>
      <text x={598} y={822} textAnchor="middle" fontSize={11} fontWeight="bold">Months to death</text>
      {kmLegend.map((t, i) => (
        <g key={i}>
          <line x1={558} x2={573} y1={648 + i * 15} y2={648 + i * 15} stroke={curves[i].col} strokeWidth={3} />
          <text x={574} y={652 + i * 15} fontSize={10.5} fontWeight="bold">{t}</text>
        </g>
      ))}
      <text x={530} y={771} fontSize={11} fontWeight="bold">P&lt;0.001</text>
      <text x={530} y={785} fontSize={11} fontWeight="bold">HR=2.2 [1.4-3.7]</text>
    </g>
  );
}

export default function App() {
  return (
    <svg width={800} height={1004} style={{ position: 'absolute', left: 0, top: 0, display: 'block', background: '#fff' }} fontFamily={FONT}>
      <rect x={0} y={0} width={800} height={1004} fill="#fff" />
      {/* A */}
      <PanelLabel x={11} y={18} t="A" size={18} />
      <Scatter frame={[63, 175, 21, 132]} xDomain={[10, 40]} xTicks={proteinXTicks} pts={proteinScatter} fit={proteinFit} rho="Rho=0.54" pv="P=1.09e-16" xLabel="Protein expression" />
      <Scatter frame={[225, 338, 21, 132]} xDomain={[10, 30]} xTicks={phosphoXTicks} pts={phosphoScatter} fit={phosphoFit} rho="Rho=0.21" pv="P=0.003" xLabel="Phosphorylation" />
      {/* B */}
      <PanelLabel x={375} y={17} t="B" size={18} />
      <PanelB />
      {/* C */}
      <PanelLabel x={11} y={192} t="C" />
      <HeaderBar x0={43} x1={744} y0={182} y1={201} text="Als et at." ty={195.5} />
      {geneTitles.map((g, i) => (
        <BoxPanel key={'c' + i} frame={alsFrames[i]} domain={alsDomains[i]} ticks={alsTicks[i]} title={g} titleY={216}
          groups={[
            { stats: alsDeadStats[i], values: alsDeadValues[i], color: BOX_BLUE },
            { stats: alsAliveStats[i], values: alsAliveValues[i], color: BOX_ORANGE }
          ]}
          dotR={1.5} dotD={3.1} dotFill="#333" rowTexts={[['Dead', 'Alive'], ['(n=16)', '(n=14)']]} rowYs={[336, 348]}
          pText={alsPValues[i]} pY={360.5}
          pX={i === 0 ? 74.5 : undefined} pWidth={i === 0 ? 99 : undefined}
          ylabel={i === 0 ? 'Gene expression' : i === 6 ? 'Z score' : undefined} ylabelX={i === 0 ? 31 : 647} />
      ))}
      {/* D */}
      <PanelLabel x={10} y={414} t="D" />
      <HeaderBar x0={43} x1={743} y0={398} y1={418} text="Lee et al." ty={414} />
      {geneTitles.map((g, i) => (
        <BoxPanel key={'d' + i} frame={leeFrames[i]} domain={leeDomains[i]} ticks={leeTicks[i]} title={g} titleY={433}
          groups={[
            { stats: leeDeadStats[i], values: expandHist(leeDeadHists[i]), color: BOX_BLUE },
            { stats: leeAliveStats[i], values: expandHist(leeAliveHists[i]), color: BOX_ORANGE }
          ]}
          dotR={1.35} dotD={2.8} dotFill="#333" dotStroke="#bdbdbd" rowTexts={[['Dead', 'Alive'], ['(n=86)', '(n=102)']]} rowYs={[551, 563.5]}
          pText={leePValues[i]} pY={576}
          ylabel={i === 6 ? 'Z score' : undefined} ylabelX={647} />
      ))}
      {/* E */}
      <PanelLabel x={11} y={623} t="E" />
      <PanelE />
      {/* F */}
      <PanelLabel x={476} y={619} t="F" />
      <PanelF />
      {/* G */}
      <HeaderBar x0={32} x1={791} y0={821} y1={839} text="TCGA" ty={835} />
      <PanelLabel x={10} y={861} t="G" />
      {geneTitles.map((g, i) => (
        <BoxPanel key={'g' + i} frame={tcgaFrames[i]} domain={tcgaDomains[i]} ticks={tcgaTicks[i]} title={g} titleY={854}
          groups={[
            { stats: tcgaHighStats[i], values: expandHist(tcgaHighHists[i]), color: BOX_BLUE },
            { stats: tcgaLowStats[i], values: tcgaLowValues[i], color: BOX_ORANGE }
          ]}
          dotR={1.2} dotD={2.35} dotFill="#484848" dotStroke="#c8c8c8" rowTexts={[['High grade', 'Low grade'], ['(n=379)', '(n=21)']]} rowYs={[974, 987]}
          rowShift={i === 6 ? [-7, -2] : [-6, 2]} rowSize={10}
          pText={tcgaPValues[i]} pY={1000} pX={(tcgaFrames[i][0] + tcgaFrames[i][1]) / 2 - 4}
          ylabel={i === 6 ? 'Z score' : undefined} ylabelX={687} />
      ))}
    </svg>
  );
}
